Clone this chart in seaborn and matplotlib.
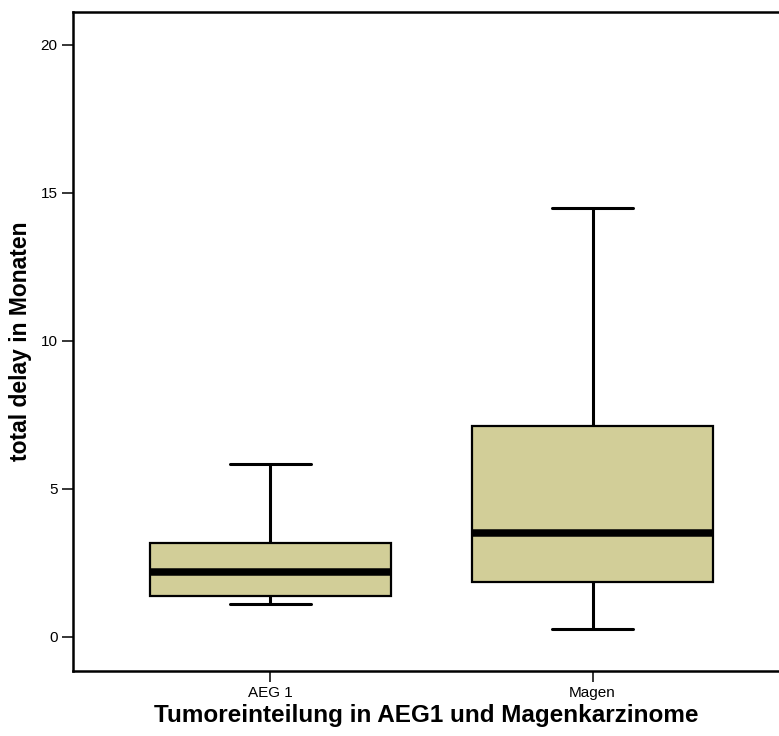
import numpy as np
import pandas as pd
import seaborn as sns
import matplotlib.pyplot as plt

# Tumour groups and their five-number summaries (min, Q1, median, Q3, max), in months
groups = ["AEG 1", "Magen"]
aeg1_delay = [1.11, 1.39, 2.21, 3.19, 5.84]
magen_delay = [0.26, 1.87, 3.51, 7.14, 14.49]

y_ticks = [0, 5, 10, 15, 20]

df = pd.DataFrame({
    "Tumoreinteilung": np.repeat(groups, len(aeg1_delay)),
    "delay": aeg1_delay + magen_delay,
})

sns.set_theme(style="ticks")
plt.rcParams["font.family"] = ["Liberation Sans", "DejaVu Sans"]

W, H = 779, 736
fig = plt.figure(figsize=(W / 100, H / 100), dpi=100)
ax = fig.add_axes([73 / W, 65 / H, (W - 73) / W, 659 / H])

sns.boxplot(
    data=df, x="Tumoreinteilung", y="delay", order=groups,
    whis=(0, 100), width=0.75, color="#D2CE98", saturation=1,
    linecolor="black", showfliers=False, capwidths=0.25,
    boxprops=dict(linewidth=1.6, edgecolor="black"),
    whiskerprops=dict(linewidth=2.2, color="black"),
    capprops=dict(linewidth=2.2, color="black"),
    medianprops=dict(linewidth=5.4, color="black", solid_capstyle="butt"),
    ax=ax,
)

ax.set_xlim(-0.613, 1.579)
ax.set_ylim(-1.149, 21.11)
ax.set_yticks(y_ticks)
ax.set_yticklabels([str(t) for t in y_ticks])

for side in ("left", "bottom", "top"):
    ax.spines[side].set_linewidth(1.8)
    ax.spines[side].set_color("black")
ax.spines["right"].set_visible(False)

ax.tick_params(axis="both", direction="out", length=8, width=1.1,
               color="black", labelsize=11, labelcolor="black", pad=3)

ax.set_ylabel("total delay in Monaten", fontsize=16.5, fontweight="bold",
              color="black", labelpad=6)
ax.set_xlabel("Tumoreinteilung in AEG1 und Magenkarzinome", fontsize=17.5,
              fontweight="bold", color="black", labelpad=3)

fig.savefig("out.png", dpi=100, facecolor="white")
